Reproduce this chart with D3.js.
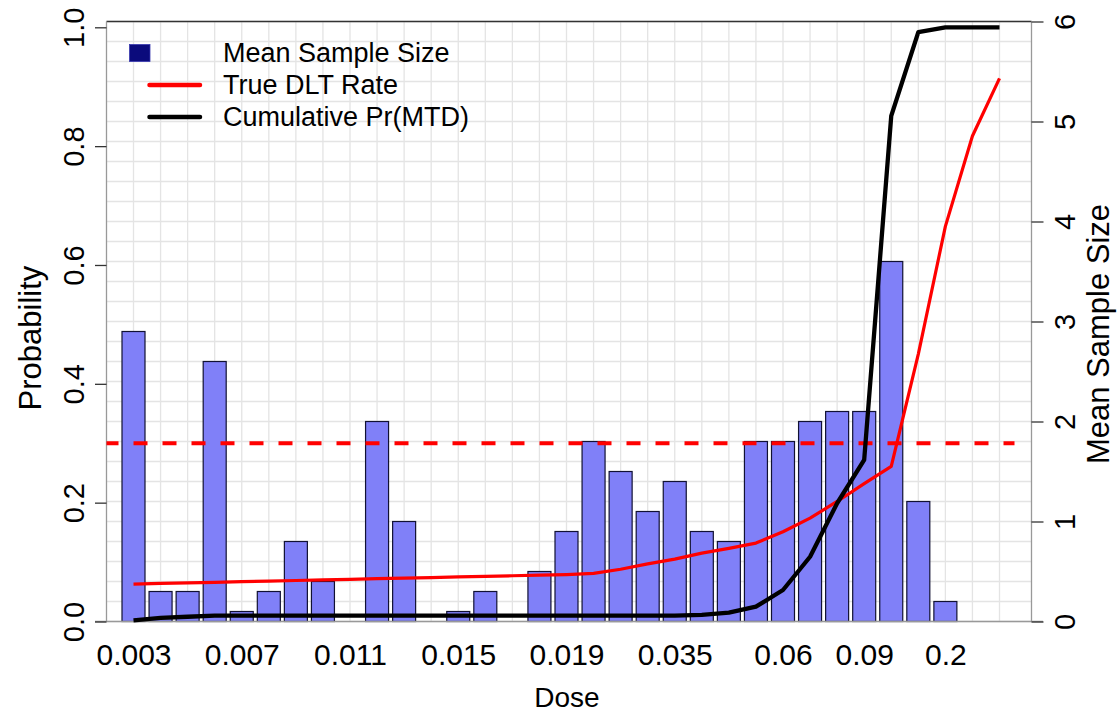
<!DOCTYPE html>
<html>
<head>
<meta charset="utf-8">
<script src="https://cdn.jsdelivr.net/npm/d3@7"></script>
<style>
  body { margin: 0; background: #fff; }
  text { font-family: "Liberation Sans", Arial, sans-serif; fill: #000; }
</style>
</head>
<body>
<svg id="chart"></svg>
<script>
// dose levels (one bar per level)
const doses = ["0.003", "0.004", "0.005", "0.006", "0.007", "0.008", "0.009", "0.01", "0.011",
  "0.012", "0.013", "0.014", "0.015", "0.016", "0.017", "0.018", "0.019", "0.02", "0.025",
  "0.03", "0.035", "0.04", "0.045", "0.05", "0.06", "0.07", "0.08", "0.09", "0.1", "0.15",
  "0.2", "0.25", "0.3"];

// mean sample size per dose (right axis)
const sampleSize = [2.9, 0.3, 0.3, 2.6, 0.1, 0.3, 0.8, 0.4, 0, 2.0, 1.0, 0, 0.1, 0.3, 0, 0.5,
  0.9, 1.8, 1.5, 1.1, 1.4, 0.9, 0.8, 1.8, 1.8, 2.0, 2.1, 2.1, 3.6, 1.2, 0.2, 0, 0];

// true DLT rate (left axis)
const dltRate = [0.063, 0.064, 0.065, 0.066, 0.067, 0.068, 0.069, 0.07, 0.071, 0.072, 0.073,
  0.074, 0.075, 0.076, 0.077, 0.078, 0.079, 0.081, 0.088, 0.097, 0.105, 0.115, 0.123, 0.132,
  0.151, 0.174, 0.202, 0.232, 0.261, 0.45, 0.665, 0.817, 0.914];

// cumulative Pr(MTD) (left axis)
const cumPrMTD = [0.002, 0.006, 0.008, 0.01, 0.01, 0.01, 0.01, 0.01, 0.01, 0.01, 0.01, 0.01,
  0.01, 0.01, 0.01, 0.01, 0.01, 0.01, 0.01, 0.01, 0.01, 0.011, 0.015, 0.025, 0.053, 0.109,
  0.199, 0.272, 0.851, 0.992, 1.0, 1.0, 1.0];

const doseLabels = ["0.003", "0.007", "0.011", "0.015", "0.019", "0.035", "0.06", "0.09", "0.2"];
const probTicks = [0, 0.2, 0.4, 0.6, 0.8, 1.0];
const sizeTicks = [0, 1, 2, 3, 4, 5, 6];
const targetRate = 0.3;

const legendItems = [
  { label: "Mean Sample Size", type: "box", color: "#0b0b7c" },
  { label: "True DLT Rate", type: "line", color: "#ff0000" },
  { label: "Cumulative Pr(MTD)", type: "line", color: "#000000" }
];

const w = 1118;
const h = 715;
const pLeft = 106.5, pRight = 1031.5, pTop = 21.5, pBottom = 621.5;

const svg = d3.select("#chart").attr("width", w).attr("height", h);

const idx = doses.map((d, i) => i);
const xScale = d3.scaleLinear().domain([0, 32]).range([133.5, 999.5]);
const yProb = d3.scaleLinear().domain([0, 1]).range([pBottom, 27.3]);
const ySize = d3.scaleLinear().domain([0, 6]).range([pBottom, pTop]);
const barW = 23;

// grid
const grid = svg.append("g").attr("class", "grid");
grid.selectAll("line.h")
  .data(d3.range(0, 31).map(k => k * 0.2))
  .enter().append("line").attr("class", "h")
  .attr("x1", pLeft).attr("x2", pRight)
  .attr("y1", d => ySize(d)).attr("y2", d => ySize(d))
  .attr("stroke", "#e4e4e4").attr("stroke-width", 1.3);
grid.selectAll("line.v")
  .data(idx)
  .enter().append("line").attr("class", "v")
  .attr("x1", d => xScale(d)).attr("x2", d => xScale(d))
  .attr("y1", pTop).attr("y2", pBottom)
  .attr("stroke", "#e4e4e4").attr("stroke-width", 1.3);

// frame
svg.append("line").attr("x1", pLeft).attr("x2", pRight).attr("y1", pTop).attr("y2", pTop)
  .attr("stroke", "#333").attr("stroke-width", 1.3);
svg.append("line").attr("x1", pLeft).attr("x2", pLeft).attr("y1", pTop).attr("y2", pBottom)
  .attr("stroke", "#999").attr("stroke-width", 1.3);
svg.append("line").attr("x1", pRight).attr("x2", pRight).attr("y1", pTop).attr("y2", pBottom)
  .attr("stroke", "#999").attr("stroke-width", 1.3);

// bars
svg.append("g").selectAll("rect")
  .data(idx.filter(i => sampleSize[i] > 0))
  .enter().append("rect")
  .attr("x", i => xScale(i) - barW / 2)
  .attr("y", i => ySize(sampleSize[i]))
  .attr("width", barW)
  .attr("height", i => pBottom - ySize(sampleSize[i]))
  .attr("fill", "#8080f8")
  .attr("stroke", "#111133")
  .attr("stroke-width", 1.2);

// bottom axis line
svg.append("line").attr("x1", 95).attr("x2", 1043).attr("y1", pBottom).attr("y2", pBottom)
  .attr("stroke", "#999").attr("stroke-width", 1.5);

// target line
svg.append("line")
  .attr("x1", pLeft).attr("x2", 1014.5)
  .attr("y1", yProb(targetRate)).attr("y2", yProb(targetRate))
  .attr("stroke", "#ff0000").attr("stroke-width", 4)
  .attr("stroke-dasharray", "14,15").attr("stroke-dashoffset", 2);

// lines
const line = (vals) => d3.line().x(i => xScale(i)).y(i => yProb(vals[i]))(idx);
svg.append("path").attr("d", line(dltRate))
  .attr("fill", "none").attr("stroke", "#ff0000").attr("stroke-width", 3.2)
  .attr("stroke-linejoin", "round");
svg.append("path").attr("d", line(cumPrMTD))
  .attr("fill", "none").attr("stroke", "#000").attr("stroke-width", 4.3)
  .attr("stroke-linejoin", "round");

// axes
const xAxis = d3.axisBottom(xScale)
  .tickValues(doseLabels.map(d => doses.indexOf(d)))
  .tickFormat(i => doses[i])
  .tickSize(0);
const gx = svg.append("g").attr("transform", `translate(0,${pBottom})`).call(xAxis);
gx.select(".domain").remove();
gx.selectAll("text").attr("y", 43).attr("dy", null).style("font-size", "30px");

const yAxisL = d3.axisLeft(yProb).tickValues(probTicks).tickFormat(d3.format(".1f")).tickSize(11.5);
const gl = svg.append("g").attr("transform", `translate(${pLeft},0)`).call(yAxisL);
gl.select(".domain").remove();
gl.selectAll("line").attr("stroke", "#333").attr("stroke-width", 1.3);
gl.selectAll("text")
  .attr("x", null).attr("dy", null)
  .attr("text-anchor", "middle")
  .attr("transform", "translate(-23,0) rotate(-90)")
  .style("font-size", "29px");

const yAxisR = d3.axisRight(ySize).tickValues(sizeTicks).tickFormat(d3.format("d")).tickSize(12);
const gr = svg.append("g").attr("transform", `translate(${pRight},0)`).call(yAxisR);
gr.select(".domain").remove();
gr.selectAll("line").attr("stroke", "#333").attr("stroke-width", 1.3);
gr.selectAll("text")
  .attr("x", null).attr("dy", null)
  .attr("text-anchor", "middle")
  .attr("transform", "translate(43,0) rotate(-90)")
  .style("font-size", "29px");

// axis titles
svg.append("text").attr("x", 567).attr("y", 707).attr("text-anchor", "middle")
  .style("font-size", "28px").text("Dose");
svg.append("text").attr("transform", "translate(41,338) rotate(-90)").attr("text-anchor", "middle")
  .style("font-size", "31px").text("Probability");
svg.append("text").attr("transform", "translate(1109,334) rotate(-90)").attr("text-anchor", "middle")
  .style("font-size", "31px").text("Mean Sample Size");

// legend
const legend = svg.append("g");
legendItems.forEach((item, k) => {
  const cy = 53 + k * 32;
  if (item.type === "box") {
    legend.append("rect").attr("x", 129.5).attr("y", cy - 8.5).attr("width", 20.5).attr("height", 17)
      .attr("fill", item.color).attr("stroke", "#3a3ab0").attr("stroke-width", 0.8);
  } else {
    legend.append("line").attr("x1", 149.5).attr("x2", 200).attr("y1", cy).attr("y2", cy)
      .attr("stroke", item.color).attr("stroke-width", 4.5).attr("stroke-linecap", "round");
  }
  legend.append("text").attr("x", 223).attr("y", cy + 9).style("font-size", "27px").text(item.label);
});
</script>
</body>
</html>
